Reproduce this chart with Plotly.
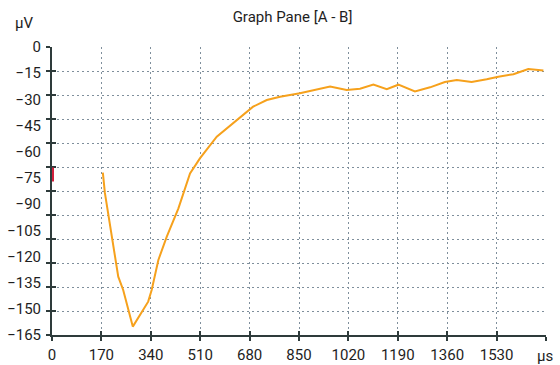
import plotly.graph_objects as go

# Time axis (µs) and amplitude (µV) of the A - B trace
time_us = [175, 182, 228, 245, 278, 331, 343, 366, 395, 435, 475, 509, 567, 636,
           692, 739, 785, 853, 899, 957, 1014, 1060, 1106, 1152, 1192, 1249, 1301,
           1352, 1393, 1444, 1496, 1536, 1588, 1639, 1656, 1691]
amp_uv = [-72, -83.6, -131.6, -139.2, -160.2, -145.9, -139.2, -122, -108.7, -92.4,
          -72.4, -63.8, -51.4, -41.8, -34.2, -30.4, -28.5, -26.5, -25, -22.7, -24.6,
          -23.9, -21.5, -24.2, -21.6, -25.5, -23.1, -20.1, -18.9, -20.1, -18.5, -17,
          -15.6, -12.6, -12.9, -13.5]

# Baseline marker on the amplitude axis
marker_uv = [-69, -77]

x_ticks = [0, 170, 340, 510, 680, 850, 1020, 1190, 1360, 1530, 1700]
x_labels = ["0", "170", "340", "510", "680", "850", "1020", "1190", "1360", "1530", ""]
y_labels_vals = [0, -15, -30, -45, -60, -75, -90, -105, -120, -135, -150, -165]
y_grid_vals = [-13.75 * i for i in range(13)]

FONT = "Roboto, sans-serif"
AXIS_COL = "#2e3b3b"
GRID_COL = "#7f8f9c"
TEXT_COL = "#1e1e1e"
X_RANGE = [0, 1700]
Y_RANGE = [-165, 0]
GRID_DASH = "2px,3px"

fig = go.Figure()

fig.add_trace(go.Scatter(x=[], y=[], xaxis="x2", yaxis="y3", showlegend=False))
fig.add_trace(go.Scatter(x=[], y=[], xaxis="x", yaxis="y2", showlegend=False))
fig.add_trace(go.Scatter(x=time_us, y=amp_uv, mode="lines",
                         line=dict(color="#f6a11c", width=2),
                         xaxis="x", yaxis="y", showlegend=False,
                         hoverinfo="skip"))
fig.add_trace(go.Scatter(x=[0, 0], y=marker_uv, mode="lines",
                         line=dict(color="#d3203c", width=4),
                         xaxis="x", yaxis="y", showlegend=False,
                         cliponaxis=False, hoverinfo="skip"))

common = dict(layer="below traces", automargin=False, zeroline=False)

fig.update_layout(
    width=560, height=365,
    margin=dict(l=52, r=14, t=47, b=30),
    paper_bgcolor="white", plot_bgcolor="white",
    font=dict(family=FONT, size=15, color=TEXT_COL),
    title=dict(text="Graph Pane [A - B]", x=292.5 / 560, xanchor="center",
               y=1 - 17 / 365, yanchor="middle",
               font=dict(family=FONT, size=15, color=TEXT_COL)),
    xaxis=dict(range=X_RANGE, tickvals=x_ticks, ticktext=x_labels,
               showgrid=True, gridcolor=GRID_COL, griddash=GRID_DASH, gridwidth=1.3,
               showline=True, linecolor=AXIS_COL, linewidth=2,
               ticks="outside", ticklen=4, tickwidth=2, tickcolor=AXIS_COL,
               ticklabelstandoff=1, fixedrange=True, **common),
    xaxis2=dict(range=X_RANGE, overlaying="x", anchor="y3", tickvals=x_ticks,
                showticklabels=False, showgrid=False,
                ticks="inside", ticklen=4, tickwidth=2, tickcolor=AXIS_COL,
                showline=False, **common),
    yaxis=dict(range=Y_RANGE, tickvals=y_grid_vals, showticklabels=False,
               showgrid=True, gridcolor=GRID_COL, griddash=GRID_DASH, gridwidth=1.3,
               showline=True, linecolor=AXIS_COL, linewidth=2,
               ticks="outside", ticklen=4, tickwidth=2, tickcolor=AXIS_COL,
               fixedrange=True, **common),
    yaxis2=dict(range=Y_RANGE, overlaying="y", anchor="x", side="left",
                tickvals=y_labels_vals,
                ticktext=[("\u2212" + str(-v)) if v < 0 else str(v) for v in y_labels_vals],
                showgrid=False, showline=False, ticks="",
                ticklabelstandoff=10, **common),
    yaxis3=dict(range=Y_RANGE, overlaying="y", anchor="x2", side="left",
                tickvals=y_grid_vals, showticklabels=False, showgrid=False,
                ticks="inside", ticklen=4, tickwidth=2,
                tickcolor=AXIS_COL, showline=False, **common),
    annotations=[
        dict(text="µV", xref="paper", yref="paper", x=-28 / 494,
             y=1 + 24 / 288, xanchor="center", yanchor="middle", showarrow=False,
             font=dict(family=FONT, size=15, color=TEXT_COL)),
        dict(text="µs", xref="paper", yref="paper", x=1 - 1 / 494,
             y=-21 / 288, xanchor="center", yanchor="middle", showarrow=False,
             font=dict(family=FONT, size=15, color=TEXT_COL)),
    ],
)

fig.write_html("out.html")
